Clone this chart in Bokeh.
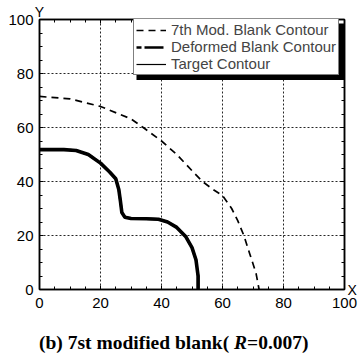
from bokeh.plotting import figure
from bokeh.models import (Range1d, LinearAxis, SingleIntervalTicker, Legend,
                          LegendItem, BoxAnnotation, CustomJSTickFormatter, Div)
from bokeh.layouts import column
from bokeh.embed import file_html
from bokeh.resources import INLINE

# 7th modified blank contour (dashed)
mod_x = [0, 10, 20, 30, 34, 40, 45, 50, 53.4, 57, 60, 63, 65, 67, 69, 71, 72]
mod_y = [71.5, 70.6, 67.8, 63.2, 60, 55, 50, 44, 40, 37, 34.8, 30, 25.5, 20, 13, 6, 0]

# deformed blank contour (thick)
def_x = [0, 8, 12, 16, 20, 23, 25, 26, 26.5, 27, 28, 30, 35, 39, 42, 45, 48, 50, 51.3, 52, 52]
def_y = [51.8, 51.8, 51.5, 50, 46.8, 43.5, 41, 37, 33, 28.5, 26.8, 26.3, 26.2, 26, 25, 23, 19.5, 15.5, 11, 5, 0]

# target contour (solid)
tgt_x = [0, 8, 12, 16, 20, 23, 25, 26, 26.5, 27, 28, 30, 35, 39, 42, 45, 48, 50, 51.3, 52, 52]
tgt_y = [51.8, 51.8, 51.5, 50, 46.8, 43.5, 41, 37, 33, 28.5, 26.8, 26.3, 26.2, 26, 25, 23, 19.5, 15.5, 11, 5, 0]

labels = ["7th Mod. Blank Contour", "Deformed Blank Contour", "Target Contour"]

p = figure(width=359, height=320, output_backend="svg", toolbar_location=None,
           x_range=Range1d(0, 100), y_range=Range1d(0, 100),
           min_border_left=39, min_border_right=15, min_border_top=19, min_border_bottom=31)
p.background_fill_color = "white"
p.border_fill_color = "white"
p.outline_line_color = "black"
p.outline_line_width = 1.5

ticker = SingleIntervalTicker(interval=20, num_minor_ticks=4)
blank = CustomJSTickFormatter(code="return ''")

def style_axis(ax, show_labels):
    ax.ticker = ticker
    ax.axis_line_color = "black"
    ax.axis_line_width = 1.5
    ax.major_tick_in = 4
    ax.major_tick_out = 0
    ax.minor_tick_in = 3
    ax.minor_tick_out = 0
    ax.major_tick_line_color = "black"
    ax.minor_tick_line_color = "black"
    ax.major_label_text_font = "Liberation Sans"
    ax.major_label_text_font_size = "15px"
    ax.major_label_text_color = "black"
    ax.axis_label_text_font = "Liberation Sans"
    ax.axis_label_text_font_size = "14px"
    ax.axis_label_text_font_style = "normal"
    ax.axis_label_text_color = "black"
    if not show_labels:
        ax.formatter = blank
        ax.major_label_standoff = 0

style_axis(p.xaxis[0], True)
style_axis(p.yaxis[0], True)
p.xaxis[0].major_label_standoff = 8
p.yaxis[0].major_label_standoff = 6
right_ax = LinearAxis()
top_ax = LinearAxis()
style_axis(right_ax, False)
style_axis(top_ax, False)
top_ax.axis_label = "Y"
top_ax.axis_label_standoff = 0
top_ax.axis_label_align = "start"
right_ax.axis_label = "X"
right_ax.axis_label_standoff = 3
right_ax.axis_label_align = "start"
right_ax.axis_label_orientation = "horizontal"
p.add_layout(right_ax, "right")
p.add_layout(top_ax, "above")

for g in (p.xgrid[0], p.ygrid[0]):
    g.ticker = ticker
    g.grid_line_color = "black"
    g.grid_line_dash = "2 2"
    g.grid_line_width = 1
    g.grid_line_alpha = 0.85

r_mod = p.line(mod_x, mod_y, line_color="black", line_width=1.7, line_dash="7 5")
r_def = p.line(def_x, def_y, line_color="black", line_width=2.4, line_dash="5 3 14 0")
r_def_thick = p.line(def_x, def_y, line_color="black", line_width=3.6)
r_tgt = p.line(tgt_x, tgt_y, line_color="black", line_width=1.2)

shadow = BoxAnnotation(left=31.8, right=100, top=98.5, bottom=77.6,
                       fill_color="black", fill_alpha=1, line_color=None)
p.add_layout(shadow)

legend = Legend(items=[LegendItem(label=labels[0], renderers=[r_mod]),
                       LegendItem(label=labels[1], renderers=[r_def]),
                       LegendItem(label=labels[2], renderers=[r_tgt])],
                location=(94, 214))
legend.padding = 2
legend.spacing = 0
legend.glyph_width = 30
legend.glyph_height = 14
legend.label_height = 14
legend.label_standoff = 5
legend.label_text_font = "Liberation Sans"
legend.label_text_font_size = "15px"
legend.border_line_color = "black"
legend.border_line_width = 1.2
legend.background_fill_color = "white"
legend.background_fill_alpha = 1
p.add_layout(legend)

title = Div(text="<b>(b) 7st modified blank( <i>R</i>=0.007)</b>",
            width=320, height=20, margin=(13, 0, 0, 39),
            styles={"font-family": "Liberation Serif", "font-size": "19.5px",
                    "line-height": "19px", "color": "black", "white-space": "nowrap"})

layout = column(p, title, spacing=0)
open("out.html", "w").write(file_html(layout, INLINE))
